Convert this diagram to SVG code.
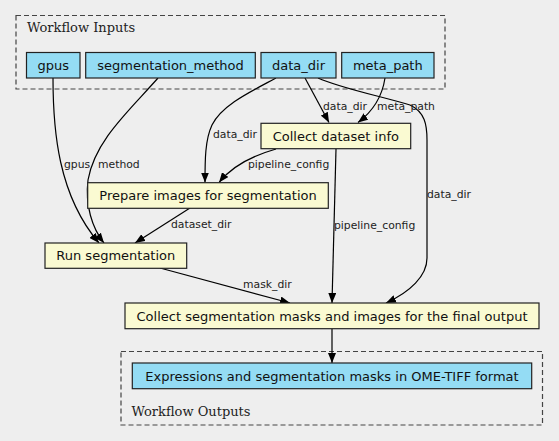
<svg xmlns="http://www.w3.org/2000/svg" width="559" height="441" viewBox="0 0 559 441">
<defs>
<marker id="ah" markerWidth="10" markerHeight="8" refX="10" refY="4" orient="auto" markerUnits="userSpaceOnUse">
<path d="M0,0 L10,4 L0,8 Z" fill="#000"/>
</marker>
<style>
.cl{fill:none;stroke:#444;stroke-width:1.2;stroke-dasharray:5,3}
.cll{font-family:"DejaVu Serif",serif;font-size:13px;fill:#222}
.in{fill:#94dcf4;stroke:#222;stroke-width:1.2}
.st{fill:#fafad2;stroke:#222;stroke-width:1.2}
.nt{font-family:"DejaVu Sans",sans-serif;font-size:13px;fill:#111;text-anchor:middle}
.e{fill:none;stroke:#000;stroke-width:1.2;marker-end:url(#ah)}
.el{font-family:"DejaVu Sans",sans-serif;font-size:10.8px;fill:#222}
</style>
</defs>
<rect width="559" height="441" fill="#eeeeee"/>
<g id="cluster_inputs">
<rect class="cl" x="16" y="15.5" width="429" height="73.5"/>
<text class="cll" x="27" y="32">Workflow Inputs</text>
</g>
<g id="cluster_outputs">
<rect class="cl" x="121" y="351.5" width="421.5" height="73.5"/>
<text class="cll" x="131.5" y="416">Workflow Outputs</text>
</g>
<g id="connectors">
<path class="e" d="M53,78 C53,130 58,195 99,243"/>
<path class="e" d="M158,78 C130,110 95,140 88,180 C85,205 92,228 104,243"/>
<path class="e" d="M276,78 C250,92 222,105 212,125 C205,140 205,160 205,182.5"/>
<path class="e" d="M305,78 L329,122.5"/>
<path class="e" d="M318,78 C340,88 380,96 410,105 C425,112 427,125 427,140 L427,258 C427,276 410,292 386,303"/>
<path class="e" d="M385,78 C382,98 372,112 358,122.5"/>
<path class="e" d="M276,149 C255,155 232,166 219,182.5"/>
<path class="e" d="M336,149 L332,303"/>
<path class="e" d="M190,208 L135,243"/>
<path class="e" d="M160,268 L290,303"/>
<path class="e" d="M332,329 L332,363"/>
<text class="el" x="64" y="168">gpus</text>
<text class="el" x="98" y="168">method</text>
<text class="el" x="213" y="138">data_dir</text>
<text class="el" x="323" y="110">data_dir</text>
<text class="el" x="377" y="110">meta_path</text>
<text class="el" x="248" y="167.5">pipeline_config</text>
<text class="el" x="427" y="198">data_dir</text>
<text class="el" x="171" y="228">dataset_dir</text>
<text class="el" x="334" y="228.5">pipeline_config</text>
<text class="el" x="243" y="288">mask_dir</text>
</g>
<g id="gpus"><rect class="in" x="26.5" y="52.5" width="53.5" height="25.5"/><text class="nt" x="53.3" y="70">gpus</text></g>
<g id="segmentation_method"><rect class="in" x="85.7" y="52.5" width="169.6" height="25.5"/><text class="nt" x="170.5" y="70">segmentation_method</text></g>
<g id="data_dir"><rect class="in" x="261" y="52.5" width="75" height="25.5"/><text class="nt" x="298.5" y="70">data_dir</text></g>
<g id="meta_path"><rect class="in" x="341.7" y="52.5" width="92.3" height="25.5"/><text class="nt" x="387.8" y="70">meta_path</text></g>
<g id="collect_dataset_info"><rect class="st" x="261" y="123.3" width="149.7" height="25.4"/><text class="nt" x="335.8" y="140.5">Collect dataset info</text></g>
<g id="prepare_images"><rect class="st" x="87.7" y="182.7" width="240.6" height="25.6"/><text class="nt" x="208" y="200">Prepare images for segmentation</text></g>
<g id="run_segmentation"><rect class="st" x="45" y="243" width="141.7" height="25.3"/><text class="nt" x="115.8" y="260">Run segmentation</text></g>
<g id="collect_masks"><rect class="st" x="125" y="303" width="414" height="25.7"/><text class="nt" x="332" y="320.5">Collect segmentation masks and images for the final output</text></g>
<g id="expressions_output"><rect class="in" x="132.3" y="363" width="399.4" height="25.7"/><text class="nt" x="332" y="380.5">Expressions and segmentation masks in OME-TIFF format</text></g>
</svg>
